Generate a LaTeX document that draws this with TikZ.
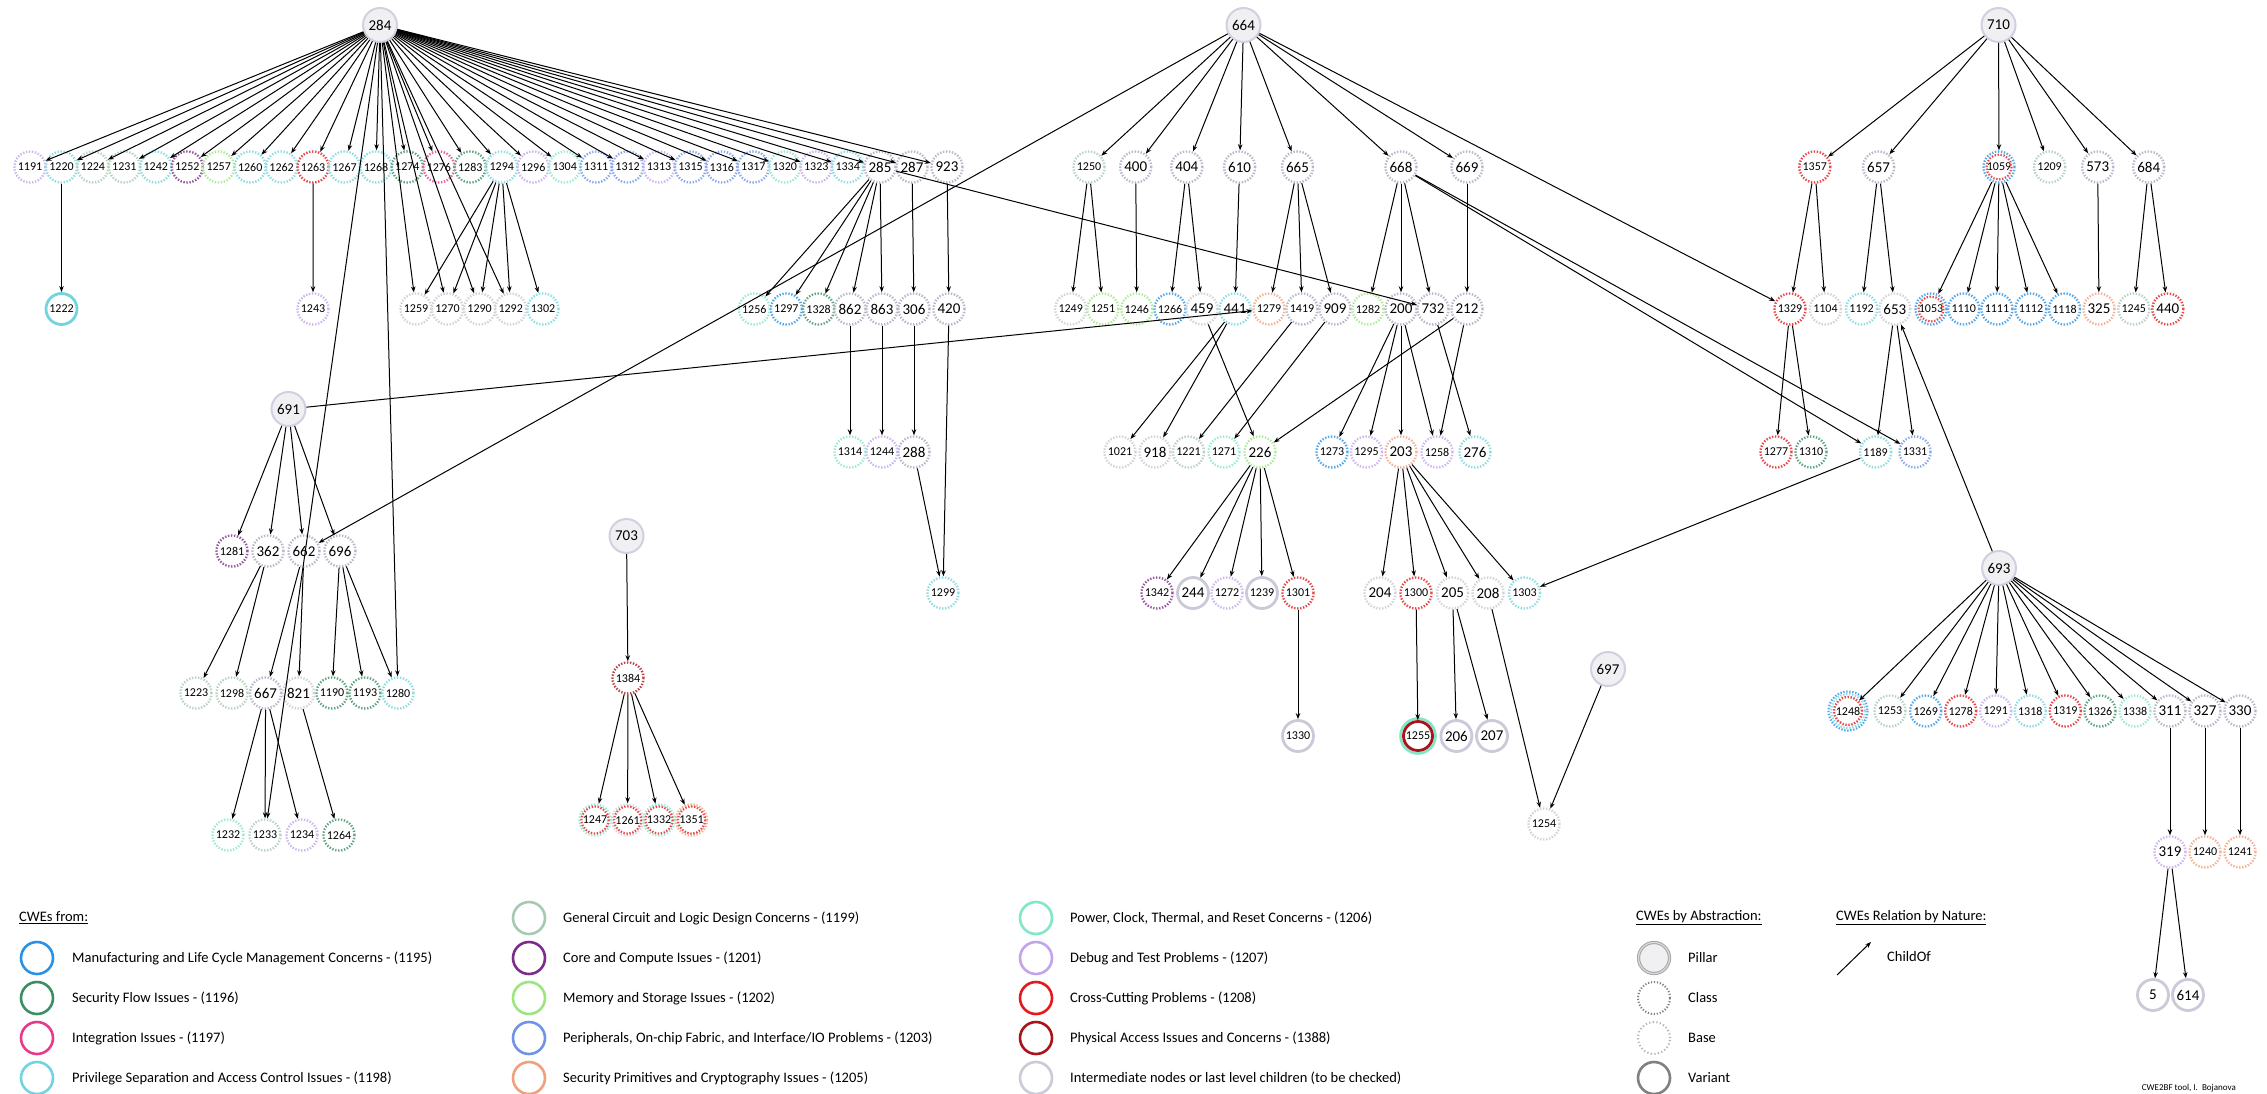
\documentclass[tikz,border=0pt]{standalone}
\usepackage{fontspec}
\setmainfont{Carlito}
\usetikzlibrary{arrows.meta}
\definecolor{cA}{HTML}{2A92E6}
\definecolor{cB}{HTML}{3A8F64}
\definecolor{cC}{HTML}{E83A8C}
\definecolor{cD}{HTML}{72D4DE}
\definecolor{cE}{HTML}{A6C9B2}
\definecolor{cF}{HTML}{7E2C8C}
\definecolor{cG}{HTML}{9CE680}
\definecolor{cH}{HTML}{6F93E6}
\definecolor{cI}{HTML}{F0A07A}
\definecolor{cJ}{HTML}{82E6C8}
\definecolor{cK}{HTML}{C2A4EE}
\definecolor{cL}{HTML}{E41A1C}
\definecolor{cM}{HTML}{A8141A}
\definecolor{cN}{HTML}{CACAD8}
\definecolor{clsc}{HTML}{B8B8CA}
\definecolor{basec}{HTML}{D2D2DC}
\definecolor{pilf}{HTML}{F0F0F3}
\definecolor{pild}{HTML}{D0D0E0}
\tikzset{
  nd/.style={circle, minimum size=31pt, inner sep=0pt, line width=2.4pt, dash pattern=on 1.4pt off 1.6pt, font=\fontsize{12}{12}\selectfont},
  big/.style={font=\fontsize{15}{15}\selectfont},
  k/.style={nd, draw=#1!80},
  cls/.style={nd, big, draw=clsc},
  bas/.style={nd, draw=basec},
  pil/.style={circle, minimum size=34pt, inner sep=0pt, fill=pilf, draw=pild, line width=2pt, font=\fontsize{15}{15}\selectfont},
  var/.style={circle, minimum size=31pt, inner sep=0pt, line width=2.8pt, draw=#1, font=\fontsize{12}{12}\selectfont},
  ed/.style={-{Stealth[length=6pt,width=4.5pt]}, line width=1pt, black},
  lgc/.style={circle, minimum size=32pt, inner sep=0pt, line width=2.6pt, draw=#1},
  lgt/.style={anchor=west, font=\fontsize{14.5}{15}\selectfont, inner sep=0pt},
  ringd/.style={line width=2.2pt, dash pattern=on 1.4pt off 1.6pt, draw=#1!80},
}
\begin{document}
\begin{tikzpicture}[x=1pt,y=-1pt]
\useasboundingbox[fill=white] (0,0) rectangle (2267,1094);
% pillars
\node[pil] (n284) at (380,25) {284};
\node[pil] (n664) at (1243.5,25) {664};
\node[pil] (n710) at (1998.5,25) {710};
\node[pil] (n691) at (288.5,409) {691};
\node[pil] (n703) at (626.5,536) {703};
\node[pil] (n693) at (1999,568) {693};
\node[pil] (n697) at (1608,669) {697};
% row 1
\node[k=cK] (n1191) at (30,167) {1191};
\node[k=cD] (n1220) at (61.5,167) {1220};
\node[k=cE] (n1224) at (92.9,167) {1224};
\node[k=cE] (n1231) at (124.4,167) {1231};
\node[k=cD] (n1242) at (155.8,167) {1242};
\node[k=cF] (n1252) at (187.3,167) {1252};
\node[k=cG] (n1257) at (218.7,167) {1257};
\node[k=cD] (n1260) at (250.2,167) {1260};
\node[k=cD] (n1262) at (281.6,167) {1262};
\node[k=cL] (n1263) at (313.1,167) {1263};
\node[k=cD] (n1267) at (344.5,167) {1267};
\node[k=cD] (n1268) at (376,167) {1268};
\node[k=cB] (n1274) at (407.4,167) {1274};
\node[k=cC] (n1276) at (438.9,167) {1276};
\node[k=cB] (n1283) at (470.3,167) {1283};
\node[k=cD] (n1294) at (501.8,167) {1294};
\node[k=cK] (n1296) at (533.2,167) {1296};
\node[k=cJ] (n1304) at (564.7,167) {1304};
\node[k=cH] (n1311) at (596.1,167) {1311};
\node[k=cH] (n1312) at (627.6,167) {1312};
\node[k=cK] (n1313) at (659,167) {1313};
\node[k=cH] (n1315) at (690.5,167) {1315};
\node[k=cH] (n1316) at (721.9,167) {1316};
\node[k=cH] (n1317) at (753.4,167) {1317};
\node[k=cJ] (n1320) at (784.8,167) {1320};
\node[k=cK] (n1323) at (816.3,167) {1323};
\node[k=cD] (n1334) at (847.7,167) {1334};
\node[cls] (n285) at (880,167) {285};
\node[cls] (n287) at (912,167) {287};
\node[cls] (n923) at (947,167) {923};
\node[k=cE] (n1250) at (1089,167) {1250};
\node[cls] (n400) at (1135.7,167) {400};
\node[cls] (n404) at (1186.8,167) {404};
\node[cls] (n610) at (1239.6,167) {610};
\node[cls] (n665) at (1297.5,167) {665};
\node[cls] (n668) at (1401,167) {668};
\node[cls] (n669) at (1467,167) {669};
\node[k=cL] (n1357) at (1814.8,167) {1357};
\node[cls] (n657) at (1878.6,167) {657};
\node[k=cA] (n1059) at (1999,167) {1059};
\draw[ringd=cL] (n1059.center) circle (12.5);
\node[k=cE] (n1209) at (2049.6,167) {1209};
\node[cls] (n573) at (2097.7,167) {573};
\node[cls] (n684) at (2148.7,167) {684};
% row 2
\node[var=cD] (n1222) at (61.5,309) {1222};
\node[k=cK] (n1243) at (313,309) {1243};
\node[bas] (n1259) at (416,309) {1259};
\node[bas] (n1270) at (447.5,309) {1270};
\node[bas] (n1290) at (479.6,309) {1290};
\node[bas] (n1292) at (510.7,309) {1292};
\node[k=cD] (n1302) at (543,309) {1302};
\node[k=cJ] (n1256) at (754.3,309) {1256};
\node[k=cA] (n1297) at (786.4,309) {1297};
\node[k=cB] (n1328) at (818.6,309) {1328};
\node[cls] (n862) at (850,309) {862};
\node[cls] (n863) at (882,309) {863};
\node[cls] (n306) at (914,309) {306};
\node[cls] (n420) at (949,309) {420};
\node[bas] (n1249) at (1070.7,309) {1249};
\node[k=cG] (n1251) at (1102.9,309) {1251};
\node[k=cG] (n1246) at (1136.8,309) {1246};
\node[k=cA] (n1266) at (1170,309) {1266};
\node[bas,big] (n459) at (1202,309) {459};
\node[k=cD,big] (n441) at (1235,309) {441};
\node[k=cI] (n1279) at (1269,309) {1279};
\node[cls,font=\fontsize{12}{12}\selectfont] (n1419) at (1302,309) {1419};
\node[cls] (n909) at (1335,309) {909};
\node[k=cG] (n1282) at (1368,309) {1282};
\node[cls] (n200) at (1401,309) {200};
\node[cls] (n732) at (1433,309) {732};
\node[cls] (n212) at (1467,309) {212};
\node[k=cL] (n1329) at (1790,309) {1329};
\node[bas] (n1104) at (1825.4,309) {1104};
\node[k=cD] (n1192) at (1861.6,309) {1192};
\node[bas,big] (n653) at (1894.8,309) {653};
\node[k=cA] (n1053) at (1931,309) {1053};
\draw[ringd=cL] (n1053.center) circle (12.5);
\node[k=cA] (n1110) at (1963.7,309) {1110};
\node[k=cA] (n1111) at (1996.9,309) {1111};
\node[k=cA] (n1112) at (2030.9,309) {1112};
\node[k=cA] (n1118) at (2064.5,309) {1118};
\node[k=cI,big] (n325) at (2099,309) {325};
\node[k=cE] (n1245) at (2133.8,309) {1245};
\node[k=cL,big] (n440) at (2167.8,309) {440};
% row 3
\node[k=cJ] (n1314) at (850,452) {1314};
\node[k=cK] (n1244) at (882,452) {1244};
\node[cls] (n288) at (914,452) {288};
\node[bas] (n1021) at (1120,452) {1021};
\node[bas,big] (n918) at (1155,452) {918};
\node[k=cE] (n1221) at (1188.5,452) {1221};
\node[k=cJ] (n1271) at (1224,452) {1271};
\node[k=cG,big] (n226) at (1260,452) {226};
\node[k=cA] (n1273) at (1332,452) {1273};
\node[k=cK] (n1295) at (1366.5,452) {1295};
\node[k=cI,big] (n203) at (1401,452) {203};
\node[k=cK] (n1258) at (1437,452) {1258};
\node[k=cD,big] (n276) at (1475,452) {276};
\node[k=cL] (n1277) at (1776,452) {1277};
\node[k=cB] (n1310) at (1811,452) {1310};
\node[k=cD] (n1189) at (1875.6,452) {1189};
\node[k=cH] (n1331) at (1915,452) {1331};
% row 4
\node[k=cF] (n1281) at (232,551) {1281};
\node[cls] (n362) at (268,551) {362};
\node[cls] (n662) at (304,551) {662};
\node[cls] (n696) at (340,551) {696};
\node[k=cD] (n1299) at (943,593) {1299};
\node[k=cF] (n1342) at (1157,593) {1342};
\node[var=cN,big] (n244) at (1193,593) {244};
\node[k=cK] (n1272) at (1227,593) {1272};
\node[var=cN] (n1239) at (1262,593) {1239};
\node[k=cL] (n1301) at (1298,593) {1301};
\node[bas,big] (n204) at (1380,593) {204};
\node[k=cL] (n1300) at (1416,593) {1300};
\node[bas,big] (n205) at (1452.6,593) {205};
\node[bas,big] (n208) at (1488,593) {208};
\node[k=cD] (n1303) at (1524.5,593) {1303};
% row 5
\node[k=cE] (n1223) at (196,693) {1223};
\node[k=cE] (n1298) at (232,693) {1298};
\node[cls] (n667) at (265.6,693) {667};
\node[bas,big] (n821) at (298.5,693) {821};
\node[k=cB] (n1190) at (332,693) {1190};
\node[k=cB] (n1193) at (365,693) {1193};
\node[k=cD] (n1280) at (398,693) {1280};
\node[k=cM] (n1384) at (628,678) {1384};
\node[var=cN] (n1330) at (1298,736) {1330};
\draw[line width=2.6pt, draw=cJ] (1418,736) circle (17.5);
\node[var=cM, minimum size=29pt] (n1255) at (1418,736) {1255};
\node[var=cN,big] (n206) at (1456.4,736) {206};
\node[var=cN,big] (n207) at (1492,736) {207};
\draw[ringd=cA] (1848,711) circle (19.5);
\draw[ringd=cD] (1848,711) circle (17);
\node[k=cL, minimum size=28pt] (n1248) at (1848,711) {1248};
\node[k=cE] (n1253) at (1890,711) {1253};
\node[k=cA] (n1269) at (1925.7,711) {1269};
\node[k=cL] (n1278) at (1960.7,711) {1278};
\node[k=cK] (n1291) at (1995.7,711) {1291};
\node[k=cD] (n1318) at (2030.3,711) {1318};
\node[k=cL] (n1319) at (2065.3,711) {1319};
\node[k=cB] (n1326) at (2100,711) {1326};
\node[k=cJ] (n1338) at (2135,711) {1338};
\node[cls] (n311) at (2170,711) {311};
\node[cls] (n327) at (2205,711) {327};
\node[cls] (n330) at (2240,711) {330};
% row 6
\node[k=cJ] (n1232) at (228,835) {1232};
\node[k=cE] (n1233) at (265,835) {1233};
\node[k=cK] (n1234) at (302,835) {1234};
\node[k=cB] (n1264) at (339,835) {1264};
\node[k=cJ] (n1247) at (595,820) {1247};
\draw[ringd=cL] (n1247.center) circle (13.5);
\node[k=cN] (n1261) at (627.6,820) {1261};
\draw[ringd=cL] (n1261.center) circle (13.5);
\node[k=cJ] (n1332) at (659,820) {1332};
\draw[ringd=cL] (n1332.center) circle (13.5);
\node[k=cI] (n1351) at (691.5,820) {1351};
\draw[ringd=cL] (n1351.center) circle (13.5);
\node[bas] (n1254) at (1544,824) {1254};
\node[k=cK,big] (n319) at (2170,852) {319};
\node[k=cI] (n1240) at (2205,852) {1240};
\node[k=cI] (n1241) at (2240,852) {1241};
\node[var=cN,big] (n5) at (2153,995) {5};
\node[var=cN,big] (n614) at (2188,995) {614};
% edges
\foreach \a/\b in {284/1191,284/1220,284/1224,284/1231,284/1242,284/1252,284/1257,284/1260,284/1262,284/1263,284/1267,284/1268,284/1274,284/1276,284/1283,284/1294,284/1296,284/1304,284/1311,284/1312,284/1313,284/1315,284/1316,284/1317,284/1320,284/1323,284/1334,284/285,284/287,284/923,284/1259,284/1270,284/1290,284/1292,284/1233,284/1280,
1220/1222,1263/1243,1294/1259,1294/1270,1294/1290,1294/1292,1294/1302,
285/1256,285/1297,285/1328,285/862,285/863,285/732,287/306,923/420,862/1314,863/1244,306/288,288/1299,420/1299,
664/1250,664/400,664/404,664/610,664/665,664/668,664/669,664/662,664/1329,
1250/1249,1250/1251,400/1246,404/1266,404/459,610/441,665/1279,665/1419,665/909,668/1282,668/200,668/732,668/1189,668/1331,669/212,
441/1021,441/918,459/226,1419/1221,909/1271,212/226,212/1258,200/1273,200/1295,200/203,200/1258,732/276,
691/1279,691/1281,691/362,691/662,691/696,362/1223,362/1298,662/667,662/821,696/1190,696/1193,696/1280,667/1232,667/1233,667/1234,821/1264,
703/1384,1384/1247,1384/1261,1384/1332,1384/1351,
226/1342,226/244,226/1272,226/1239,226/1301,1301/1330,203/204,203/1300,203/205,203/208,203/1303,1300/1255,205/206,205/207,208/1254,697/1254,1189/1303,
710/1357,710/657,710/1059,710/1209,710/573,710/684,1357/1329,1357/1104,657/1192,657/653,1059/1053,1059/1110,1059/1111,1059/1112,1059/1118,573/325,684/1245,684/440,1329/1277,1329/1310,653/1189,653/1331,
693/653,693/1248,693/1253,693/1269,693/1278,693/1291,693/1318,693/1319,693/1326,693/1338,693/311,693/327,693/330,311/319,327/1240,330/1241,319/5,319/614}
  \draw[ed] (n\a) -- (n\b);
% legend
\node[lgt] (lg0) at (19,918) {\underline{CWEs from:}};
\node[lgc=cA] (lc1) at (37,958) {};
\node[lgt] (lt1) at (72,958) {Manufacturing and Life Cycle Management Concerns - (1195)};
\node[lgc=cB] (lc2) at (37,998) {};
\node[lgt] (lt2) at (72,998) {Security Flow Issues - (1196)};
\node[lgc=cC] (lc3) at (37,1038) {};
\node[lgt] (lt3) at (72,1038) {Integration Issues - (1197)};
\node[lgc=cD] (lc4) at (37,1078) {};
\node[lgt] (lt4) at (72,1078) {Privilege Separation and Access Control Issues - (1198)};
\node[lgc=cE] (lc5) at (529,918) {};
\node[lgt] (lt5) at (563,918) {General Circuit and Logic Design Concerns - (1199)};
\node[lgc=cF] (lc6) at (529,958) {};
\node[lgt] (lt6) at (563,958) {Core and Compute Issues - (1201)};
\node[lgc=cG] (lc7) at (529,998) {};
\node[lgt] (lt7) at (563,998) {Memory and Storage Issues - (1202)};
\node[lgc=cH] (lc8) at (529,1038) {};
\node[lgt] (lt8) at (563,1038) {Peripherals, On-chip Fabric, and Interface/IO Problems - (1203)};
\node[lgc=cI] (lc9) at (529,1078) {};
\node[lgt] (lt9) at (563,1078) {Security Primitives and Cryptography Issues - (1205)};
\node[lgc=cJ] (lc10) at (1036,918) {};
\node[lgt] (lt10) at (1070,918) {Power, Clock, Thermal, and Reset Concerns - (1206)};
\node[lgc=cK] (lc11) at (1036,958) {};
\node[lgt] (lt11) at (1070,958) {Debug and Test Problems - (1207)};
\node[lgc=cL] (lc12) at (1036,998) {};
\node[lgt] (lt12) at (1070,998) {Cross-Cutting Problems - (1208)};
\node[lgc=cM] (lc13) at (1036,1038) {};
\node[lgt] (lt13) at (1070,1038) {Physical Access Issues and Concerns - (1388)};
\node[lgc=cN] (lc14) at (1036,1078) {};
\node[lgt] (lt14) at (1070,1078) {Intermediate nodes or last level children (to be checked)};
\node[lgt] (la0) at (1636,918) {\underline{CWEs by Abstraction:}};
\node[circle, minimum size=31pt, inner sep=0pt, fill=pilf, draw=black!35, line width=1pt, double=black!15, double distance=1.2pt] (la1) at (1654,958) {};
\node[lgt] (lta1) at (1688,958) {Pillar};
\node[circle, minimum size=32pt, inner sep=0pt, draw=black!50, line width=2pt, dash pattern=on 1.2pt off 1.8pt] (la2) at (1654,998) {};
\node[lgt] (lta2) at (1688,998) {Class};
\node[circle, minimum size=32pt, inner sep=0pt, draw=black!30, line width=2pt, dash pattern=on 1.2pt off 2.4pt] (la3) at (1654,1038) {};
\node[lgt] (lta3) at (1688,1038) {Base};
\node[circle, minimum size=32pt, inner sep=0pt, draw=black!50, line width=2.6pt] (la4) at (1654,1078) {};
\node[lgt] (lta4) at (1688,1078) {Variant};
\node[lgt] (lr0) at (1836,918) {\underline{CWEs Relation by Nature:}};
\coordinate (ar1) at (1837,975);
\coordinate (ar2) at (1871,942);
\draw[ed] (ar1) -- (ar2);
\node[lgt] (lr1) at (1887,957) {ChildOf};
\node[anchor=east, inner sep=0pt, font=\fontsize{9}{9}\selectfont] (cred) at (2236,1088) {CWE2BF tool, I.\ \ Bojanova};
\end{tikzpicture}
\end{document}
